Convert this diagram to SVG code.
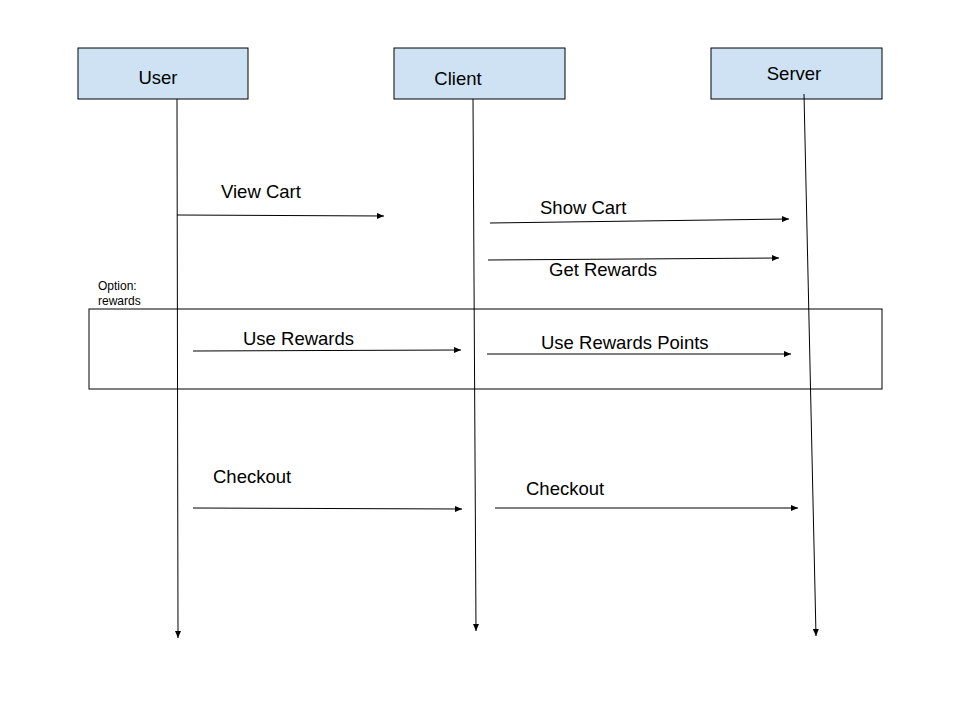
<svg xmlns="http://www.w3.org/2000/svg" width="960" height="720" viewBox="0 0 960 720">
<style>
.box{fill:#cfe2f3;stroke:#000;stroke-width:1}
.t{font-family:"Liberation Sans",Arial,sans-serif;font-size:18.5px;fill:#000}
.s{font-family:"Liberation Sans",Arial,sans-serif;font-size:12px;fill:#000}
.ln{stroke:#000;stroke-width:1;fill:none}
</style>
<defs>
<marker id="ah" markerWidth="8" markerHeight="6" refX="7" refY="3" orient="auto" markerUnits="userSpaceOnUse">
<path d="M0,0 L7,3 L0,6 z" fill="#000"/>
</marker>
</defs>
<rect width="960" height="720" fill="#fff"/>
<g id="user"><rect class="box" x="78" y="48" width="170" height="51"/><text class="t" x="158" y="84" text-anchor="middle">User</text></g>
<g id="client"><rect class="box" x="394" y="48" width="171" height="51"/><text class="t" x="458" y="85" text-anchor="middle">Client</text></g>
<g id="server"><rect class="box" x="711" y="48" width="171" height="51"/><text class="t" x="794" y="80" text-anchor="middle">Server</text></g>
<g id="option"><rect x="89" y="309" width="793" height="80" fill="none" stroke="#000" stroke-width="1"/><text class="s" x="98" y="290">Option:</text><text class="s" x="98" y="305">rewards</text></g>
<g id="connectors">
<line class="ln" x1="177" y1="99" x2="178" y2="638" marker-end="url(#ah)"/>
<line class="ln" x1="473" y1="99" x2="476" y2="631" marker-end="url(#ah)"/>
<line class="ln" x1="804" y1="94" x2="816" y2="636" marker-end="url(#ah)"/>
<line class="ln" x1="177" y1="215" x2="384" y2="216" marker-end="url(#ah)"/>
<line class="ln" x1="490" y1="223" x2="789" y2="219" marker-end="url(#ah)"/>
<line class="ln" x1="488" y1="260" x2="779" y2="258" marker-end="url(#ah)"/>
<line class="ln" x1="193" y1="351" x2="461" y2="350" marker-end="url(#ah)"/>
<line class="ln" x1="487" y1="354" x2="791" y2="354" marker-end="url(#ah)"/>
<line class="ln" x1="193" y1="508" x2="462" y2="509" marker-end="url(#ah)"/>
<line class="ln" x1="495" y1="508" x2="798" y2="508" marker-end="url(#ah)"/>
</g>
<g id="labels">
<text class="t" x="221" y="198">View Cart</text>
<text class="t" x="540" y="214">Show Cart</text>
<text class="t" x="549" y="276">Get Rewards</text>
<text class="t" x="243" y="345">Use Rewards</text>
<text class="t" x="541" y="349">Use Rewards Points</text>
<text class="t" x="213" y="483">Checkout</text>
<text class="t" x="526" y="495">Checkout</text>
</g>
</svg>
